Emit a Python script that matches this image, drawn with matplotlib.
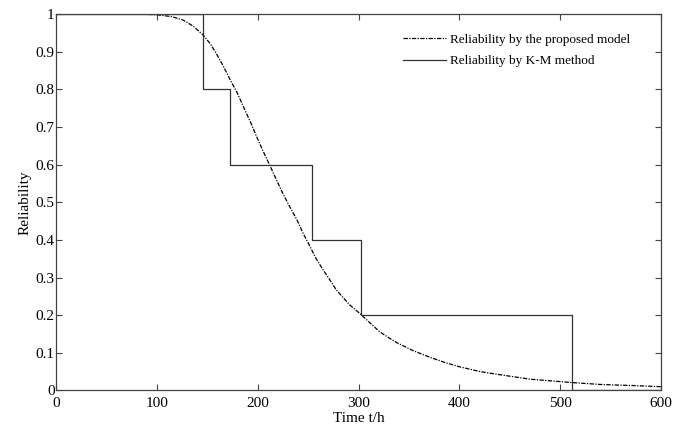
import numpy as np
import matplotlib
matplotlib.use('Agg')
import matplotlib.pyplot as plt
from matplotlib.ticker import FormatStrFormatter

plt.rcParams['font.family'] = ['Liberation Serif', 'DejaVu Serif']

# model curve
t_model = [50, 80, 100, 115, 126, 136, 146, 153, 159, 166, 173, 180, 186, 193,
           199, 205, 211, 218, 225, 232, 239, 245, 252, 258, 265, 272, 278,
           285, 291, 302, 312, 321, 330, 338, 354, 371, 385, 400, 421, 440,
           470, 512, 540, 573, 600]
r_model = [1.0, 1.0, 0.998, 0.993, 0.984, 0.968, 0.944, 0.921, 0.895, 0.861,
           0.824, 0.789, 0.753, 0.712, 0.674, 0.638, 0.604, 0.563, 0.523,
           0.487, 0.453, 0.418, 0.382, 0.350, 0.320, 0.292, 0.267, 0.246,
           0.228, 0.203, 0.178, 0.156, 0.140, 0.127, 0.106, 0.088, 0.075,
           0.063, 0.050, 0.042, 0.030, 0.021, 0.016, 0.013, 0.010]

# K-M estimate
t_km = [0, 146, 173, 254, 302, 512, 600]
r_km = [1.0, 0.8, 0.6, 0.4, 0.2, 0.0, 0.0]

fig = plt.figure(figsize=(6.73, 4.30), dpi=100)
ax = fig.add_axes([0.0832, 0.0919, 0.8990, 0.8755])

ax.plot(t_model, r_model, color='k', linewidth=0.9,
        linestyle=(0, (3.5, 1.1, 1, 1.1)), label='Reliability by the proposed model')
ax.step(t_km, r_km, where='post', color='#333333', linewidth=0.9,
        label='Reliability by K-M method')

ax.set_xlim(0, 600)
ax.set_ylim(0, 1)
ax.set_xticks(range(0, 601, 100))
ax.set_yticks(np.arange(0, 1.01, 0.1))
ax.yaxis.set_major_formatter(FormatStrFormatter('%g'))
ax.tick_params(direction='in', top=True, right=True, length=4, width=0.8,
               labelsize=11, colors='#444444', labelcolor='k')
ax.tick_params(axis='x', pad=5)
ax.tick_params(axis='y', pad=1)
for s in ax.spines.values():
    s.set_color('#444444')
    s.set_linewidth(0.9)

ax.set_xlabel('Time t/h', fontsize=11, labelpad=1)
ax.set_ylabel('Reliability', fontsize=11, labelpad=3)

ax.legend(loc='upper right', frameon=False, fontsize=9.5, handlelength=3.2,
          handletextpad=0.3, bbox_to_anchor=(0.968, 0.98), labelspacing=0.7)

fig.savefig('out.png', dpi=100)
